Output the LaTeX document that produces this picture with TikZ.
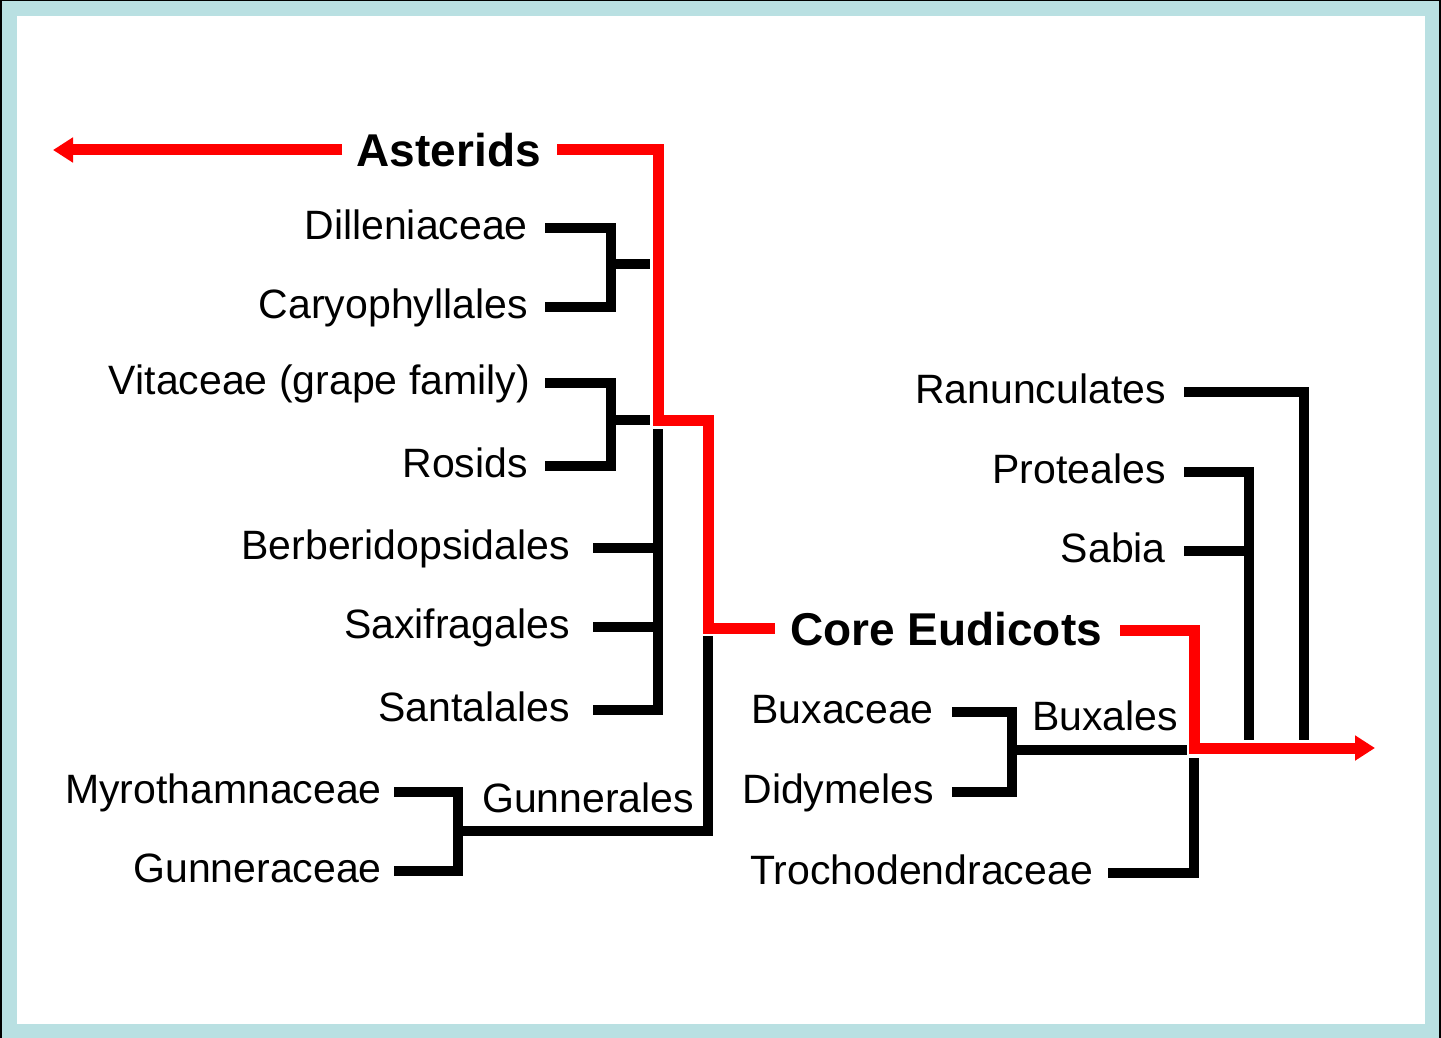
\documentclass[tikz,border=0pt]{standalone}
\usepackage{fontspec}
\setmainfont{Liberation Sans}
\usetikzlibrary{arrows.meta}
\definecolor{framecyan}{RGB}{185,224,226}
\definecolor{cladered}{RGB}{255,0,0}
\tikzset{
  lbl/.style={anchor=base east, inner sep=0pt, font=\fontsize{41}{49}\selectfont},
  lblw/.style={anchor=base west, inner sep=0pt, font=\fontsize{41}{49}\selectfont},
  big/.style={inner sep=0pt, font=\fontsize{46}{54}\selectfont\bfseries},
  br/.style={draw=black, line width=10pt, miter limit=10},
  redline/.style={draw=cladered, line width=11pt, miter limit=10},
  redarrow/.style={redline, -{Triangle[length=20pt,width=24pt]}},
}
\begin{document}
\begin{tikzpicture}[x=1pt,y=-1pt]
\useasboundingbox (0,0) rectangle (1441,1038);
% frame
\fill[black] (0,0) rectangle (1441,1038);
\fill[framecyan] (2,1) rectangle (1439,1038);
\fill[white] (17,16) rectangle (1425,1024);

% labels
\node[big, anchor=base east] (ast) at (541,167) {Asterids};
\node[big, anchor=base west] (core) at (790,645) {Core Eudicots};
\node[lbl] (dill) at (528,239) {Dilleniaceae};
\node[lbl] (cary) at (528,318) {Caryophyllales};
\node[lbl] (vita) at (530,394) {Vitaceae (grape family)};
\node[lbl] (ros) at (528,477) {Rosids};
\node[lbl] (berb) at (570,559) {Berberidopsidales};
\node[lbl] (saxi) at (570,638) {Saxifragales};
\node[lbl] (sant) at (570,721) {Santalales};
\node[lbl] (myro) at (382,803) {Myrothamnaceae};
\node[lbl] (gunc) at (382,882) {Gunneraceae};
\node[lblw] (gunr) at (482,812) {Gunnerales};
\node[lbl] (buxc) at (934,723) {Buxaceae};
\node[lbl] (didy) at (934,803) {Didymeles};
\node[lblw] (troc) at (750,884) {Trochodendraceae};
\node[lblw] (buxl) at (1032,730) {Buxales};
\node[lbl] (ranu) at (1166,403) {Ranunculates};
\node[lbl] (prot) at (1166,483) {Proteales};
\node[lbl] (sabi) at (1166,562) {Sabia};

% named points
\coordinate (astR) at (557,150);
\coordinate (astL) at (342,150);
\coordinate (astTip) at (53,150);
\coordinate (j1) at (658,150);
\coordinate (j2) at (658,420);
\coordinate (j3) at (708,420);
\coordinate (j4) at (708,628);
\coordinate (coreL) at (775,628);
\coordinate (coreR) at (1120,630);
\coordinate (k1) at (1194,630);
\coordinate (k2) at (1194,748);
\coordinate (rootTip) at (1375,748);

% black brackets
\draw[br] (545,228) -- (611,228) -- (611,307) -- (545,307);
\draw[br] (611,264) -- (650,264);
\draw[br] (545,383) -- (611,383) -- (611,466) -- (545,466);
\draw[br] (611,420) -- (650,420);
\draw[br] (658,429) -- (658,710) -- (593,710);
\draw[br] (593,548) -- (658,548);
\draw[br] (593,627) -- (658,627);
\draw[br] (394,792) -- (458,792) -- (458,871) -- (394,871);
\draw[br] (458,831) -- (708,831) -- (708,636);
\draw[br] (952,712) -- (1012,712) -- (1012,792) -- (952,792);
\draw[br] (1012,750) -- (1187,750);
\draw[br] (1108,873) -- (1194,873) -- (1194,758);
\draw[br] (1184,392) -- (1304,392) -- (1304,740);
\draw[br] (1184,472) -- (1249,472) -- (1249,740);
\draw[br] (1184,551) -- (1249,551);

% red lineages
\draw[redarrow] (astL) -- (astTip);
\draw[redline] (astR) -- (j1) -- (j2) -- (j3) -- (j4) -- (coreL);
\draw[redarrow] (coreR) -- (k1) -- (k2) -- (rootTip);
\end{tikzpicture}
\end{document}
